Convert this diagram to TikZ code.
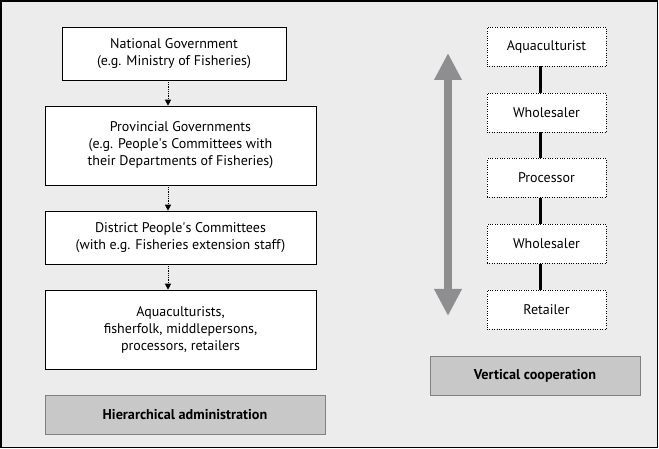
\documentclass[tikz,border=0pt]{standalone}
\usepackage{fontspec}
\setmainfont{PT Sans}
\usetikzlibrary{arrows.meta}
\definecolor{panelgrey}{HTML}{ECECEC}
\definecolor{labelgrey}{HTML}{C8C8C8}
\definecolor{arrowgrey}{HTML}{8E8E90}
\begin{document}
\begin{tikzpicture}[x=1pt, y=-1pt,
        every node/.style={font=\fontsize{14}{17}\selectfont, align=center, inner sep=0},
        levelbox/.style={draw, semithick, fill=white, minimum width=271pt},
        chainbox/.style={draw, dotted, fill=white, minimum width=119pt, minimum height=39pt},
        titlebox/.style={draw=black!50, fill=labelgrey, minimum height=39pt, font=\fontsize{14.2}{17}\selectfont\bfseries},
        flow/.style={densely dotted, thick, -{Triangle[width=6pt,length=6pt]}},
        link/.style={line width=3pt}]
    \useasboundingbox (0,0) rectangle (659,449);
    \draw [line width=1.5pt, fill=panelgrey] (1,1) rectangle (657.5,447.5);
    % hierarchical administration
    \node [levelbox, minimum width=224pt, minimum height=53pt] (nat) at (174,53.5)
        {National Government\\(e.g. Ministry of Fisheries)};
    \node [levelbox, minimum height=79pt] (prov) at (180.5,145.5)
        {Provincial Governments\\(e.g. People\textquotesingle s Committees with\\their Departments of Fisheries)};
    \node [levelbox, minimum height=53pt] (dist) at (180.5,237.5)
        {District People\textquotesingle s Committees\\(with e.g. Fisheries extension staff)};
    \node [levelbox, minimum height=79pt] (actors) at (180.5,329.5)
        {Aquaculturists,\\fisherfolk, middlepersons,\\processors, retailers};
    \node [titlebox, minimum width=280pt] (hier) at (185,414.5) {Hierarchical administration};
    \coordinate (axis) at (168,0);
    \draw [flow] (nat.south -| axis) -- (prov.north -| axis);
    \draw [flow] (prov.south -| axis) -- (dist.north -| axis);
    \draw [flow] (dist.south -| axis) -- (actors.north -| axis);
    % vertical cooperation
    \node [chainbox] (aqua) at (546.5,46.5) {Aquaculturist};
    \node [chainbox] (whole) at (546.5,112.5) {Wholesaler};
    \node [chainbox] (proc) at (546.5,178) {Processor};
    \node [chainbox] (wholetwo) at (546.5,244) {Wholesaler};
    \node [chainbox] (retail) at (546.5,309.5) {Retailer};
    \coordinate (chain) at (540,0);
    \draw [link] (aqua.south -| chain) -- (whole.north -| chain);
    \draw [link] (whole.south -| chain) -- (proc.north -| chain);
    \draw [link] (proc.south -| chain) -- (wholetwo.north -| chain);
    \draw [link] (wholetwo.south -| chain) -- (retail.north -| chain);
    \coordinate (up) at (448,53);
    \coordinate (down) at (448,316);
    \draw [arrowgrey, line width=8pt, {Triangle[width=26pt,length=27pt]}-{Triangle[width=26pt,length=27pt]}] (up) -- (down);
    \node [titlebox, minimum width=210pt] (vert) at (535,375.5) {Vertical cooperation};
\end{tikzpicture}
\end{document}
